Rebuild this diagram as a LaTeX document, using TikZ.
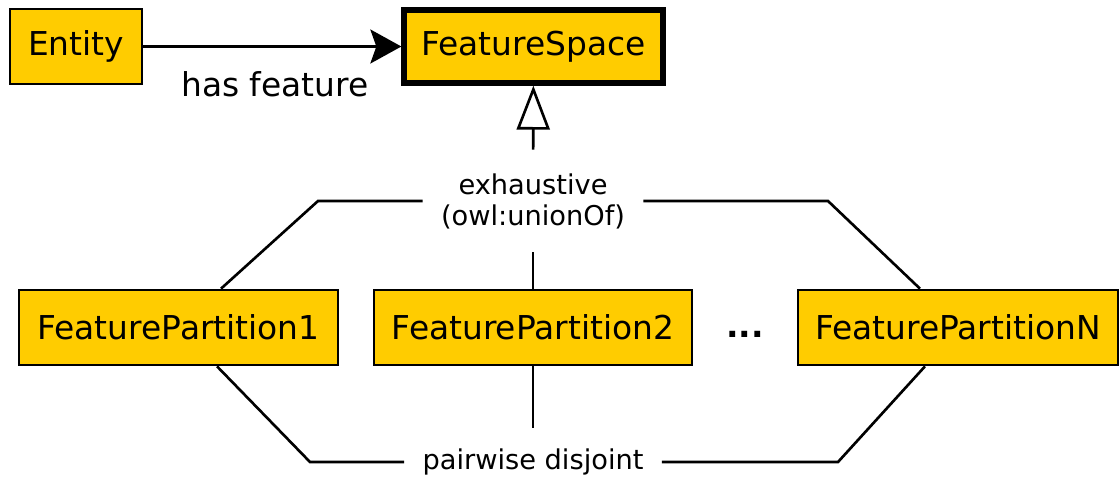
\documentclass[tikz,border=0pt]{standalone}
\usepackage{fontspec}
\setmainfont{DejaVu Sans}
\definecolor{boxyellow}{RGB}{255, 204, 0}
\usepackage{tikz}
\usetikzlibrary{arrows.meta, positioning, calc}

\begin{document}
\begin{tikzpicture}[
    cls/.style={draw, fill=boxyellow, line width=1.5pt, minimum height=1.5cm, font=\fontsize{18.7}{22}\selectfont},
    link/.style={line width=1.5pt},
    note/.style={font=\fontsize{15.5}{17.6}\selectfont, align=center, inner sep=0pt}
  ]
  \useasboundingbox (0, 0) rectangle (22.4, -9.58);

  % Top row
  \node[cls, minimum width=2.64cm] (entity) at (1.52, -0.93) {Entity};
  \node[cls, minimum width=5.18cm, minimum height=1.46cm, line width=3pt] (space) at (10.67, -0.93) {FeatureSpace};
  \draw[link, -{Stealth[length=0.62cm, width=0.68cm, inset=0.12cm]}] (entity) -- (space);
  \node[font=\fontsize{18.7}{22}\selectfont] (hasf) at (5.5, -1.68) {has feature};

  % Partitions
  \node[cls, minimum width=6.38cm] (part1) at (3.57, -6.55) {FeaturePartition1};
  \node[cls, minimum width=6.36cm] (part2) at (10.66, -6.55) {FeaturePartition2};
  \node[cls, minimum width=6.4cm] (partN) at (19.16, -6.55) {FeaturePartitionN};
  \node[font=\fontsize{18.7}{22}\selectfont\bfseries] (dots) at (14.9, -6.68) {...};

  % Labels on the brackets
  \node[note, minimum width=4.4cm, minimum height=2.04cm] (exh) at (10.66, -4.02) {exhaustive\\(owl:unionOf)};
  \node[note, minimum width=5.14cm, minimum height=1.36cm] (disj) at (10.66, -9.24) {pairwise disjoint};

  % Union bracket
  \draw[link, -{Triangle[open, length=0.88cm, width=0.66cm]}] (exh) -- (space);
  \draw[link] (exh.west) -- (6.36, -4.02) -- ($(part1.north)+(0.85, 0)$);
  \draw[link] (exh.east) -- (16.56, -4.02) -- ($(partN.north)+(-0.76, 0)$);
  \draw[link] (exh) -- (part2);

  % Disjoint bracket
  \draw[link] ($(part1.south)+(0.77, 0)$) -- (6.2, -9.24) -- (disj.west);
  \draw[link] (disj.east) -- (16.76, -9.24) -- ($(partN.south)+(-0.66, 0)$);
  \draw[link] (part2) -- (disj);
\end{tikzpicture}
\end{document}
